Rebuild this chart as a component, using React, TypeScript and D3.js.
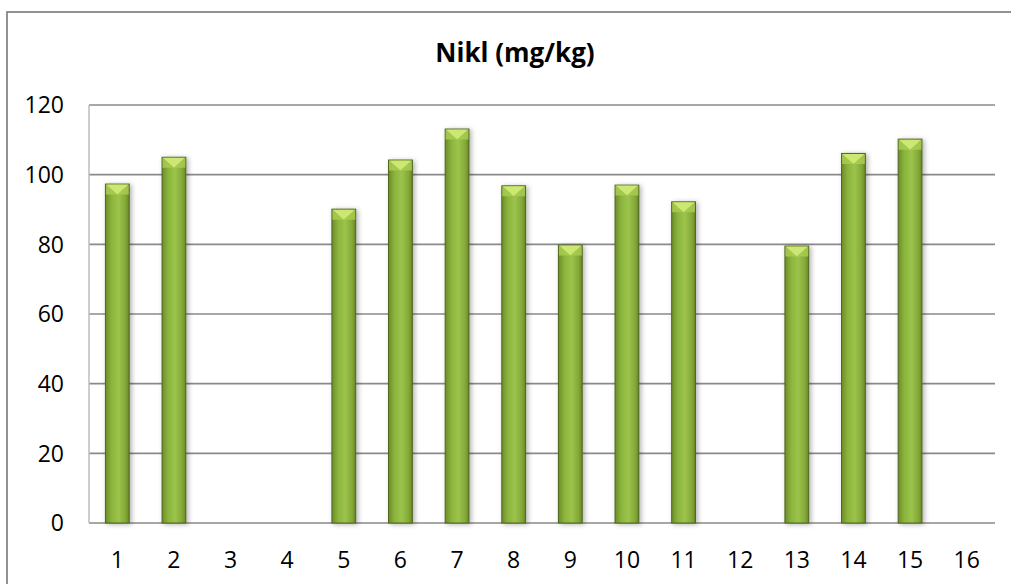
import React, { useRef, useEffect } from "react";
import * as d3 from "d3";

const categories = ["1", "2", "3", "4", "5", "6", "7", "8", "9", "10", "11", "12", "13", "14", "15", "16"];
const values: (number | null)[] = [97.3, 105, null, null, 90.1, 104.2, 113.1, 96.8, 79.8, 97, 92.2, null, 79.5, 106.1, 110.2, null];
const yTicks = [0, 20, 40, 60, 80, 100, 120];
const title = "Nikl (mg/kg)";

const W = 1011;
const H = 584;
const FONT = "'Open Sans', 'Liberation Sans', sans-serif";

const App: React.FC = () => {
  const svgRef = useRef<SVGSVGElement | null>(null);

  useEffect(() => {
    const svg = d3.select(svgRef.current).attr("width", W).attr("height", H);
    svg.selectAll("*").remove();

    const left = 89, right = 995, top = 105, bottom = 523;

    const defs = svg.append("defs");
    const grad = defs.append("linearGradient").attr("id", "barGrad").attr("x1", "0").attr("x2", "1").attr("y1", "0").attr("y2", "0");
    grad.append("stop").attr("offset", "0%").attr("stop-color", "#6c8c28");
    grad.append("stop").attr("offset", "25%").attr("stop-color", "#8ab43c");
    grad.append("stop").attr("offset", "55%").attr("stop-color", "#9cc44c");
    grad.append("stop").attr("offset", "85%").attr("stop-color", "#84a838");
    grad.append("stop").attr("offset", "100%").attr("stop-color", "#678626");
    const shadow = defs.append("filter").attr("id", "shadow").attr("x", "-30%").attr("y", "-10%").attr("width", "160%").attr("height", "130%");
    shadow.append("feDropShadow").attr("dx", 2).attr("dy", 1).attr("stdDeviation", 2.5).attr("flood-color", "#000").attr("flood-opacity", 0.3);

    // outer border
    svg.append("rect").attr("x", 7).attr("y", 12).attr("width", W - 6).attr("height", H)
      .attr("fill", "#fff").attr("stroke", "#878787").attr("stroke-width", 1.8);

    const x = d3.scaleBand().domain(categories).range([left, right]).paddingInner(0.58).paddingOuter(0.29);
    const y = d3.scaleLinear().domain([0, 120]).range([bottom, top]);

    // gridlines
    svg.append("g").selectAll("line").data(yTicks).enter().append("line")
      .attr("x1", left).attr("x2", right)
      .attr("y1", (d) => y(d)).attr("y2", (d) => y(d))
      .attr("stroke", "#8a8a8a").attr("stroke-width", 1.6);

    // left axis line
    svg.append("line").attr("x1", left).attr("x2", left).attr("y1", top).attr("y2", bottom)
      .attr("stroke", "#bdbdbd").attr("stroke-width", 1.5);

    // y labels
    svg.append("g").selectAll("text").data(yTicks).enter().append("text")
      .attr("x", 64).attr("y", (d) => y(d)).attr("dy", "0.36em")
      .attr("text-anchor", "end").attr("font-family", FONT).attr("font-size", 23).attr("fill", "#000")
      .text((d) => d);

    // x labels
    svg.append("g").selectAll("text").data(categories).enter().append("text")
      .attr("x", (d) => x(d)! + x.bandwidth() / 2).attr("y", 567.5)
      .attr("text-anchor", "middle")
      .attr("font-family", FONT).attr("font-size", 23).attr("fill", "#000")
      .text((d) => d);

    // bars
    const data = categories.map((c, i) => ({ c, v: values[i] })).filter((d) => d.v !== null) as { c: string; v: number }[];
    const bars = svg.append("g").selectAll("g").data(data).enter().append("g");
    const bw = x.bandwidth();
    bars.append("rect")
      .attr("x", (d) => x(d.c)!).attr("y", (d) => y(d.v))
      .attr("width", bw).attr("height", (d) => bottom - y(d.v))
      .attr("fill", "url(#barGrad)").attr("stroke", "#4e6620").attr("stroke-width", 1)
      .attr("filter", "url(#shadow)");
    bars.append("path")
      .attr("d", (d) => {
        const x0 = x(d.c)! + 0.5, x1 = x0 + bw - 1, t = y(d.v) + 0.5;
        return `M${x0},${t} L${x1},${t} L${x0 + (bw - 1) / 2},${t + 10} Z`;
      })
      .attr("fill", "#cde872");
    bars.append("path")
      .attr("d", (d) => {
        const x0 = x(d.c)! + 0.5, x1 = x0 + bw - 1, t = y(d.v) + 0.5;
        return `M${x0},${t} L${x0 + (bw - 1) / 2},${t + 10} L${x0},${t + 10} Z M${x1},${t} L${x0 + (bw - 1) / 2},${t + 10} L${x1},${t + 10} Z`;
      })
      .attr("fill", "#a8cc50").attr("opacity", 0.85);

    // title
    svg.append("text").attr("x", 515).attr("y", 62)
      .attr("text-anchor", "middle").attr("font-family", FONT).attr("font-weight", "bold")
      .attr("font-size", 26).attr("fill", "#000").text(title);
  }, []);

  return <svg ref={svgRef} style={{ position: "absolute", left: 0, top: 0 }}></svg>;
};

export default App;
